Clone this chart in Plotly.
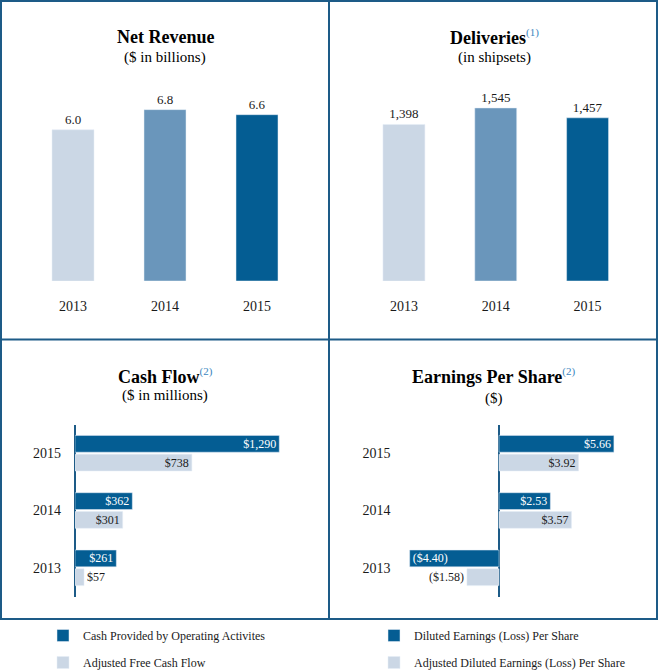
import plotly.graph_objects as go

W, H = 658, 672

years = ["2013", "2014", "2015"]
net_revenue = [6.0, 6.8, 6.6]
deliveries = [1398, 1545, 1457]
cash_operating = [261, 362, 1290]
adj_free_cash = [57, 301, 738]
eps_diluted = [-4.40, 2.53, 5.66]
eps_adjusted = [-1.58, 3.57, 3.92]

LIGHT = "#CBD7E5"
MID = "#6A96BB"
DARK = "#045D93"
BORDER = "#1D5B87"
SUPC = "#3B86C0"
FONT = "Liberation Serif"
TXT = "#1a1a1a"


def px_x(p):
    return p / W


def px_y(p):
    return 1 - p / H


def money0(v):
    s = "${:,.0f}".format(abs(v))
    return "(" + s + ")" if v < 0 else s


def money2(v):
    s = "${:,.2f}".format(abs(v))
    return "(" + s + ")" if v < 0 else s


def positions(vals, small):
    # labels of very short bars sit outside the bar end
    return ["outside" if abs(v) < small else "inside" for v in vals]


fig = go.Figure()

# Net revenue
fig.add_trace(go.Bar(
    x=years, y=net_revenue, marker_color=[LIGHT, MID, DARK], width=0.4565,
    text=["{:.1f}".format(v) for v in net_revenue], textposition="outside",
    textfont=dict(family=FONT, size=13, color=TXT), cliponaxis=False,
    showlegend=False, xaxis="x", yaxis="y", hoverinfo="skip"))

# Deliveries
fig.add_trace(go.Bar(
    x=years, y=deliveries, marker_color=[LIGHT, MID, DARK], width=0.4565,
    text=["{:,}".format(v) for v in deliveries], textposition="outside",
    textfont=dict(family=FONT, size=13, color=TXT), cliponaxis=False,
    showlegend=False, xaxis="x2", yaxis="y2", hoverinfo="skip"))

bar_txt = dict(textangle=0, constraintext="none", cliponaxis=False,
               insidetextanchor="end", hoverinfo="skip")

# Cash flow
fig.add_trace(go.Bar(
    y=years, x=cash_operating, orientation="h", marker_color=DARK,
    offset=0.017, width=0.293, name="Cash Provided by Operating Activites",
    text=[money0(v) for v in cash_operating],
    textposition=positions(cash_operating, 150),
    insidetextfont=dict(family=FONT, size=12, color="white"),
    outsidetextfont=dict(family=FONT, size=12, color=TXT),
    legend="legend", legendgroup="a", xaxis="x3", yaxis="y3", **bar_txt))
fig.add_trace(go.Bar(
    y=years, x=adj_free_cash, orientation="h", marker_color=LIGHT,
    offset=-0.31, width=0.293, name="Adjusted Free Cash Flow",
    text=[money0(v) for v in adj_free_cash],
    textposition=positions(adj_free_cash, 150),
    insidetextfont=dict(family=FONT, size=12, color=TXT),
    outsidetextfont=dict(family=FONT, size=12, color=TXT),
    legend="legend", legendgroup="b", xaxis="x3", yaxis="y3", **bar_txt))

# EPS
fig.add_trace(go.Bar(
    y=years, x=eps_diluted, orientation="h", marker_color=DARK,
    offset=0.017, width=0.293, name="Diluted Earnings (Loss) Per Share",
    text=[money2(v) for v in eps_diluted],
    textposition=positions(eps_diluted, 2.0),
    insidetextfont=dict(family=FONT, size=12, color="white"),
    outsidetextfont=dict(family=FONT, size=12, color=TXT),
    legend="legend2", legendgroup="c", xaxis="x4", yaxis="y4", **bar_txt))
fig.add_trace(go.Bar(
    y=years, x=eps_adjusted, orientation="h", marker_color=LIGHT,
    offset=-0.31, width=0.293, name="Adjusted Diluted Earnings (Loss) Per Share",
    text=[money2(v) for v in eps_adjusted],
    textposition=positions(eps_adjusted, 2.0),
    insidetextfont=dict(family=FONT, size=12, color=TXT),
    outsidetextfont=dict(family=FONT, size=12, color=TXT),
    legend="legend2", legendgroup="d", xaxis="x4", yaxis="y4", **bar_txt))

top_ydom = [px_y(281), px_y(79.4)]
bot_ydom = [px_y(596.5), px_y(424.5)]

xcat = dict(type="category", categoryorder="array", categoryarray=years,
            range=[-0.5, 2.5], showgrid=False, zeroline=False, showline=False,
            ticks="", ticklabelstandoff=15,
            tickfont=dict(family=FONT, size=14, color=TXT), fixedrange=True)
yhid = dict(showgrid=False, zeroline=False, showline=False, showticklabels=False,
            ticks="", fixedrange=True)
ycat = dict(type="category", categoryorder="array", categoryarray=years,
            range=[-0.5, 2.5], showgrid=False, zeroline=False, showline=False,
            ticks="", tickfont=dict(family=FONT, size=14, color=TXT), fixedrange=True)
xnum = dict(showgrid=False, showline=False, showticklabels=False, ticks="",
            zeroline=True, zerolinecolor=BORDER, zerolinewidth=1.5, fixedrange=True)

fig.update_layout(
    width=W, height=H, margin=dict(l=0, r=0, t=0, b=0, autoexpand=False),
    paper_bgcolor="white", plot_bgcolor="rgba(0,0,0,0)",
    barmode="overlay", showlegend=True,
    font=dict(family=FONT, size=12, color=TXT),
    xaxis=dict(domain=[px_x(27), px_x(303)], anchor="y", **xcat),
    yaxis=dict(domain=top_ydom, anchor="x", range=[0, 8], **yhid),
    xaxis2=dict(domain=[px_x(358), px_x(633.5)], anchor="y2", **xcat),
    yaxis2=dict(domain=top_ydom, anchor="x2", range=[0, 1800], **yhid),
    xaxis3=dict(domain=[px_x(75), px_x(312.5)], anchor="y3", range=[0, 1500], **xnum),
    yaxis3=dict(domain=bot_ydom, anchor="x3", ticklabelstandoff=13, **ycat),
    xaxis4=dict(domain=[px_x(397.5), px_x(620.8)], anchor="y4", range=[-5, 6], **xnum),
    yaxis4=dict(domain=bot_ydom, anchor="x4", ticklabelstandoff=6, **ycat),
    legend=dict(x=px_x(43), y=px_y(621), xanchor="left", yanchor="top",
                traceorder="grouped", tracegroupgap=8, bgcolor="rgba(0,0,0,0)",
                font=dict(family=FONT, size=12, color=TXT)),
    legend2=dict(x=px_x(374), y=px_y(621), xanchor="left", yanchor="top",
                 traceorder="grouped", tracegroupgap=8, bgcolor="rgba(0,0,0,0)",
                 font=dict(family=FONT, size=12, color=TXT)),
)

# panel borders
line = dict(color=BORDER, width=2)
fig.add_shape(type="rect", xref="paper", yref="paper", x0=px_x(1), x1=px_x(657),
              y0=px_y(619), y1=px_y(1), line=line, fillcolor="rgba(0,0,0,0)")
fig.add_shape(type="line", xref="paper", yref="paper", x0=px_x(329), x1=px_x(329),
              y0=px_y(619), y1=px_y(1), line=line)
fig.add_shape(type="line", xref="paper", yref="paper", x0=px_x(1), x1=px_x(657),
              y0=px_y(339.5), y1=px_y(339.5), line=line)


def sup(n):
    return "<sup><span style='font-size:11px;color:%s'>(%d)</span></sup>" % (SUPC, n)


titles = [
    (165, 37, "<b>Net Revenue</b>", 57, "($ in billions)"),
    (494, 37, "<b>Deliveries</b>" + sup(1), 57, "(in shipsets)"),
    (165, 376, "<b>Cash Flow</b>" + sup(2), 395, "($ in millions)"),
    (494, 376, "<b>Earnings Per Share</b>" + sup(2), 398, "($)"),
]
for cx, ty, t, sy, s in titles:
    fig.add_annotation(x=px_x(cx), y=px_y(ty), xref="paper", yref="paper",
                       text=t, showarrow=False, xanchor="center", yanchor="middle",
                       font=dict(family=FONT, size=18, color="black"))
    fig.add_annotation(x=px_x(cx), y=px_y(sy), xref="paper", yref="paper",
                       text=s, showarrow=False, xanchor="center", yanchor="middle",
                       font=dict(family=FONT, size=15, color="black"))

fig.write_html("out.html")
